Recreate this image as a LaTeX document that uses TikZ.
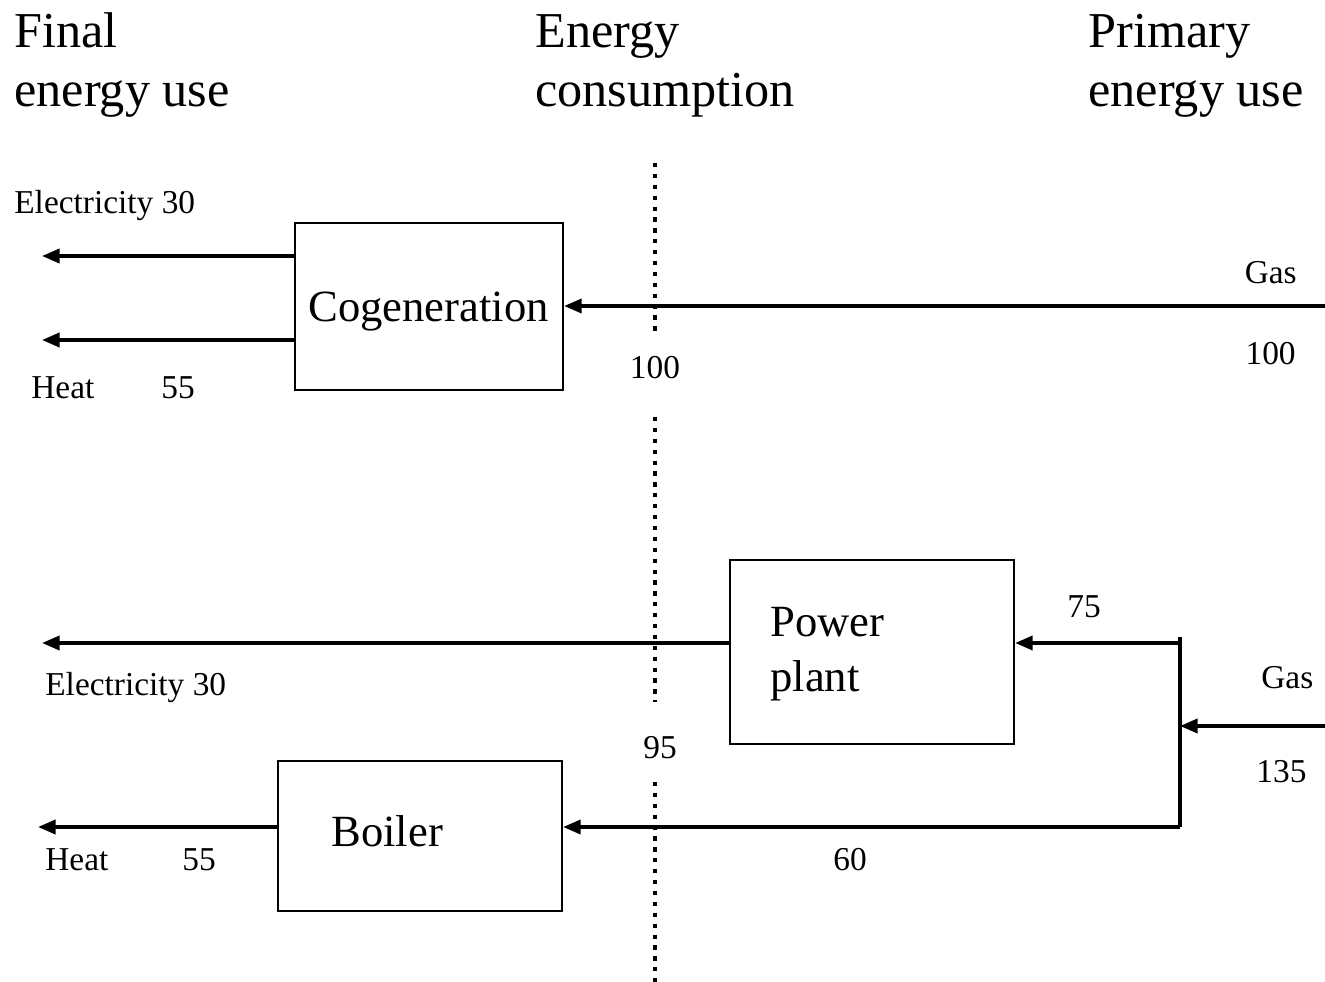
\documentclass[tikz,border=0pt]{standalone}
\usepackage{fontspec}
\setmainfont{Liberation Serif}
\usetikzlibrary{arrows.meta}
\begin{document}
\begin{tikzpicture}[x=0.02cm,y=-0.02cm,
  box/.style={draw,line width=1.2pt,inner sep=0pt,anchor=north west},
  flow/.style={line width=2pt,-{Triangle[length=10pt,width=8pt]}},
  plain/.style={line width=2pt},
  sep/.style={line width=2.6pt,dash pattern=on 2.4pt off 3.8pt},
  head/.style={font=\fontsize{28.6}{34}\selectfont,inner sep=0pt,anchor=base west},
  boxtxt/.style={font=\fontsize{25.4}{30}\selectfont,inner sep=0pt,anchor=base west},
  lbl/.style={font=\fontsize{19}{22}\selectfont,inner sep=0pt}]
\useasboundingbox (0,0) rectangle (1325,982);
% headers
\node[head] (h1a) at (14,48) {Final};
\node[head] (h1b) at (14,107) {energy use};
\node[head] (h2a) at (535,48) {Energy};
\node[head] (h2b) at (535,107) {consumption};
\node[head] (h3a) at (1088,48) {Primary};
\node[head] (h3b) at (1088,107) {energy use};
% separators
\coordinate (s1a) at (655,163); \coordinate (s1b) at (655,337);
\coordinate (s2a) at (655,417); \coordinate (s2b) at (655,702);
\coordinate (s3a) at (655,782); \coordinate (s3b) at (655,982);
\draw[sep] (s1a) -- (s1b);
\draw[sep] (s2a) -- (s2b);
\draw[sep] (s3a) -- (s3b);
% boxes
\node[box,minimum width=268*0.02cm,minimum height=167*0.02cm] (cog) at (294,222) {};
\node[boxtxt] (cogt) at (308,322) {Cogeneration};
\node[box,minimum width=284*0.02cm,minimum height=184*0.02cm] (pp) at (729,559) {};
\node[boxtxt] (ppt1) at (770,637) {Power};
\node[boxtxt] (ppt2) at (770,691) {plant};
\node[box,minimum width=284*0.02cm,minimum height=150*0.02cm] (bo) at (277,760) {};
\node[boxtxt] (bot) at (331,846) {Boiler};
% coordinates
\coordinate (ce) at (42,256);
\coordinate (ch) at (42,340);
\coordinate (cg) at (1325,306);
\coordinate (pe) at (42,643);
\coordinate (bh) at (38,827);
\coordinate (jt) at (1180,637);
\coordinate (j1) at (1180,643);
\coordinate (j2) at (1180,726);
\coordinate (j3) at (1180,827);
\coordinate (gg) at (1325,726);
% flows
\draw[flow] (cog.west |- ce) -- (ce);
\draw[flow] (cog.west |- ch) -- (ch);
\draw[flow] (cg) -- (cog.east |- cg);
\draw[flow] (pp.west |- pe) -- (pe);
\draw[flow] (bo.west |- bh) -- (bh);
\draw[flow] (j1) -- (pp.east |- j1);
\draw[plain] (jt) -- (j3);
\draw[flow] (gg) -- (j2);
\draw[flow] (j3) -- (bo.east |- j3);
% labels
\node[lbl,anchor=base west] (l1) at (14,214) {Electricity 30};
\node[lbl,anchor=base west] (l2) at (31,399) {Heat};
\node[lbl,anchor=base west] (l3) at (161,399) {55};
\node[lbl,anchor=base] (l4) at (655,379) {100};
\node[lbl,anchor=base east] (l5) at (1297,284) {Gas};
\node[lbl,anchor=base east] (l6) at (1296,365) {100};
\node[lbl,anchor=base west] (l7) at (1067,618) {75};
\node[lbl,anchor=base west] (l8) at (1261,688) {Gas};
\node[lbl,anchor=base west] (l9) at (1256,782) {135};
\node[lbl,anchor=base west] (l10) at (45,695) {Electricity 30};
\node[lbl,anchor=base] (l11) at (660,758) {95};
\node[lbl,anchor=base west] (l12) at (45,870) {Heat};
\node[lbl,anchor=base west] (l13) at (182,870) {55};
\node[lbl,anchor=base west] (l14) at (833,870) {60};
\end{tikzpicture}
\end{document}
